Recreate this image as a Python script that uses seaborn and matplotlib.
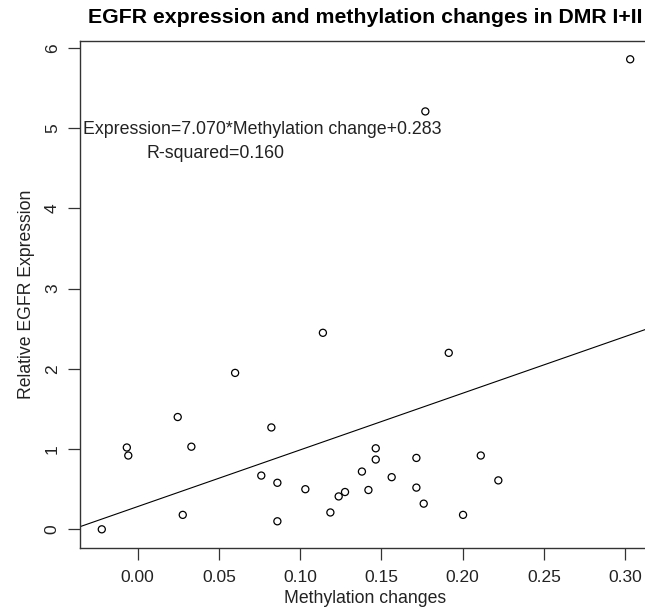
import matplotlib
matplotlib.use("Agg")
import matplotlib.pyplot as plt
import seaborn as sns
import pandas as pd

# Data
methylation_change = [-0.022, -0.0066, -0.0057, 0.0247, 0.0331, 0.0278, 0.060,
                      0.0823, 0.0761, 0.086, 0.086, 0.1032, 0.114, 0.1186,
                      0.1237, 0.1276, 0.138, 0.1465, 0.1465, 0.142, 0.1563,
                      0.1715, 0.1715, 0.176, 0.2002, 0.2111, 0.2219, 0.1914,
                      0.303, 0.177]
relative_expression = [0.00, 1.02, 0.92, 1.40, 1.03, 0.18, 1.95,
                       1.27, 0.67, 0.58, 0.10, 0.50, 2.45, 0.21,
                       0.41, 0.465, 0.72, 1.01, 0.87, 0.49, 0.65,
                       0.89, 0.52, 0.32, 0.18, 0.92, 0.61, 2.20,
                       5.86, 5.21]
fit_slope = 7.070
fit_intercept = 0.283
r_squared = 0.160
x_ticks = [0.00, 0.05, 0.10, 0.15, 0.20, 0.25, 0.30]
x_tick_labels = ["0.00", "0.05", "0.10", "0.15", "0.20", "0.25", "0.30"]
y_ticks = [0, 1, 2, 3, 4, 5, 6]
y_tick_labels = ["0", "1", "2", "3", "4", "5", "6"]

df = pd.DataFrame({"x": methylation_change, "y": relative_expression})

sns.set_style("white")
plt.rcParams["font.family"] = ["Liberation Sans", "DejaVu Sans"]
txt = "#222222"

fig = plt.figure(figsize=(6.45, 6.12), dpi=100)
ax = fig.add_axes([80 / 645, 1 - 548 / 612, (651 - 80) / 645, (548 - 41) / 612])

sns.scatterplot(data=df, x="x", y="y", ax=ax, marker="o", s=26,
                fc="none", ec="black", linewidth=0.9, zorder=3)
ax.axline((0, fit_intercept), slope=fit_slope, color="black", lw=0.8, zorder=2)

ax.set_xlim(-0.0354, 0.3158)
ax.set_ylim(-0.233, 6.088)
ax.set_xticks(x_ticks)
ax.set_xticklabels(x_tick_labels)
ax.set_yticks(y_ticks)
ax.set_yticklabels(y_tick_labels, rotation=90, va="center")
ax.tick_params(axis="both", direction="out", length=8.5, width=0.9,
               color="#333333", labelsize=12.5, labelcolor=txt, pad=7,
               bottom=True, left=True)
ax.tick_params(axis="y", pad=6)
for sp in ax.spines.values():
    sp.set_visible(True)
    sp.set_color("#333333")
    sp.set_linewidth(1.0)

ax.set_xlabel("Methylation changes", fontsize=12.7, color=txt, labelpad=4)
ax.set_ylabel("Relative EGFR Expression", fontsize=12.7, color=txt, labelpad=7)
ax.set_title("EGFR expression and methylation changes in DMR I+II",
             fontsize=15.3, fontweight="bold", color="black", pad=13)

ax.text(-0.0335, 4.98, f"Expression={fit_slope:.3f}*Methylation change+{fit_intercept:.3f}",
        fontsize=12.8, color=txt, ha="left", va="center")
ax.text(0.0055, 4.69, f"R-squared={r_squared:.3f}",
        fontsize=12.8, color=txt, ha="left", va="center")

fig.savefig("out.png", dpi=100)
